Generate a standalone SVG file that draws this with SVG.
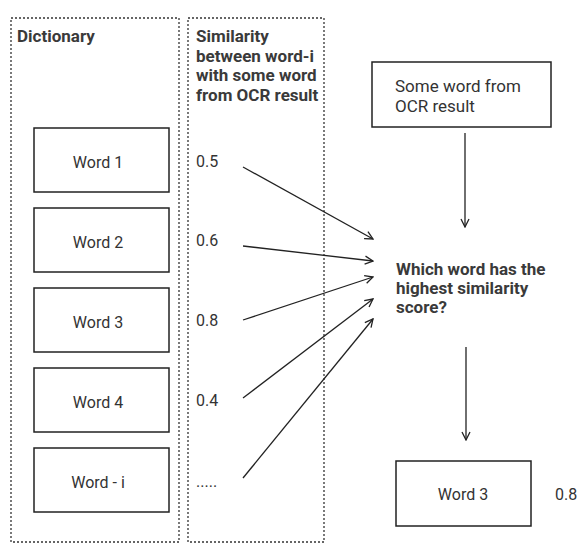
<svg xmlns="http://www.w3.org/2000/svg" width="580" height="545" viewBox="0 0 580 545">
<defs>
<marker id="ah" markerWidth="10" markerHeight="10" refX="9" refY="5" orient="auto" markerUnits="userSpaceOnUse">
<path d="M1,1 L9,5 L1,9" fill="none" stroke="#222" stroke-width="1.3"/>
</marker>
</defs>
<style>
.cont{fill:none;stroke:#333;stroke-width:1.3;stroke-dasharray:2,2}
.box{fill:#fff;stroke:#222;stroke-width:1.5}
.t{font-family:Roboto,"Liberation Sans",sans-serif;font-size:16px;fill:#333}
.t2{font-family:Roboto,"Liberation Sans",sans-serif;font-size:17px;fill:#333}
.b{font-family:Roboto,"Liberation Sans",sans-serif;font-size:17px;font-weight:bold;fill:#3a3a3a}
.c{text-anchor:middle}
.ln{stroke:#222;stroke-width:1.3;fill:none;marker-end:url(#ah)}
</style>
<rect width="580" height="545" fill="#fff"/>
<g id="dictionary">
<rect class="cont" x="11" y="18" width="168" height="524"/>
<text class="b" x="17" y="42">Dictionary</text>
</g>
<g id="similarity">
<rect class="cont" x="188" y="18" width="136" height="524"/>
<text class="b" x="196" y="42">Similarity</text>
<text class="b" x="196" y="62">between word-i</text>
<text class="b" x="196" y="81">with some word</text>
<text class="b" x="196" y="101">from OCR result</text>
</g>
<g id="word1"><rect class="box" x="34" y="128" width="135" height="64"/><text class="t c" x="98" y="168">Word 1</text></g>
<g id="word2"><rect class="box" x="34" y="208" width="135" height="64"/><text class="t c" x="98" y="248">Word 2</text></g>
<g id="word3"><rect class="box" x="34" y="288" width="135" height="64"/><text class="t c" x="98" y="328">Word 3</text></g>
<g id="word4"><rect class="box" x="34" y="368" width="135" height="64"/><text class="t c" x="98" y="408">Word 4</text></g>
<g id="wordi"><rect class="box" x="34" y="448" width="135" height="64"/><text class="t c" x="98" y="488">Word - i</text></g>
<g id="scores">
<text class="t" x="196" y="167">0.5</text>
<text class="t" x="196" y="246">0.6</text>
<text class="t" x="196" y="326">0.8</text>
<text class="t" x="196" y="406">0.4</text>
<text class="t" x="196" y="487">.....</text>
</g>
<g id="ocrword"><rect class="box" x="372" y="62" width="179" height="65"/>
<text class="t2" x="395" y="92">Some word from</text>
<text class="t2" x="395" y="112">OCR result</text></g>
<g id="question">
<text class="b" x="396" y="275">Which word has the</text>
<text class="b" x="396" y="294">highest similarity</text>
<text class="b" x="396" y="313">score?</text>
</g>
<g id="result"><rect class="box" x="396" y="461" width="135" height="65"/>
<text class="t c" x="463" y="500">Word 3</text>
<text class="t" x="555" y="500">0.8</text></g>
<g id="connectors">
<line class="ln" x1="243" y1="167" x2="373" y2="239"/>
<line class="ln" x1="243" y1="246" x2="373" y2="261"/>
<line class="ln" x1="243" y1="320" x2="373" y2="277"/>
<line class="ln" x1="243" y1="398" x2="373" y2="299"/>
<line class="ln" x1="243" y1="478" x2="373" y2="319"/>
<line class="ln" x1="465" y1="133" x2="465" y2="227"/>
<line class="ln" x1="466" y1="347" x2="466" y2="440"/>
</g>
</svg>
